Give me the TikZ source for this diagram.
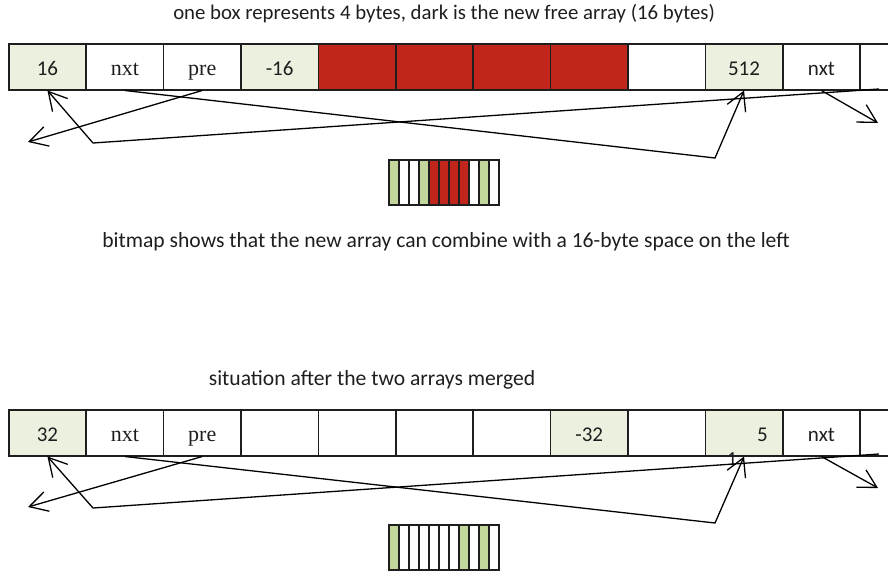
\documentclass[tikz,border=0pt]{standalone}
\usepackage{fontspec}
\setmainfont{Carlito}
\newfontfamily\ptrfont{Liberation Serif}
\usetikzlibrary{arrows.meta}

\definecolor{inkc}{HTML}{1E1E1E}
\definecolor{headc}{HTML}{EBF1DE}
\definecolor{usedc}{HTML}{C0261B}
\definecolor{bitg}{HTML}{C3D69B}

\tikzset{
  cell/.style={draw=inkc, line width=1.5pt, minimum width=77.4pt, minimum height=46pt,
    inner sep=0pt, anchor=north west, text=inkc, text height=18pt, text depth=0pt,
    font=\fontsize{21}{24}\selectfont},
  headcell/.style={cell, fill=headc},
  usedcell/.style={cell, fill=usedc},
  ptrcell/.style={cell, font=\ptrfont\fontsize{22}{24}\selectfont},
  link/.style={draw=black, line width=1.3pt},
  tip/.style={link, -{Straight Barb[length=18pt,width=20pt,line width=1.3pt]}},
  bitcell/.style={draw=inkc, line width=2.2pt, minimum width=10pt, minimum height=45pt,
    inner sep=0pt, anchor=north west},
  caption/.style={text=inkc, font=\fontsize{21.6}{24}\selectfont}
}

\begin{document}
\begin{tikzpicture}[x=1pt, y=-1pt]
\useasboundingbox (0,0) rectangle (888,574);

% ---- heap before merging ----
\node[caption, font=\fontsize{20.8}{24}\selectfont] (cap1) at (444,14) {one box represents 4 bytes, dark is the new free array (16 bytes)};

\foreach \i/\sty/\lab in {1/headcell/16, 2/ptrcell/nxt, 3/ptrcell/pre, 4/headcell/-16,
    5/usedcell/, 6/usedcell/, 7/usedcell/, 8/usedcell/, 9/cell/, 10/headcell/512,
    11/cell/nxt, 12/cell/}
  \node[\sty] (r\i) at ({8+77.4*(\i-1)},43) {\lab};

\coordinate (ra) at (715,158);
\coordinate (rb) at (93,143);
\coordinate (rl) at (28,142);
\coordinate (rr) at (878,123);
\coordinate (rs) at (879,89);

\draw[tip] (r2.south) -- (ra) -- (r10.south);
\draw[tip] (r3.south) -- (rl);
\draw[tip] (rs) -- (rb) -- (r1.south);
\draw[tip] (r11.south) -- (rr);

\foreach \i/\c in {1/bitg, 2/white, 3/white, 4/bitg, 5/usedc, 6/usedc, 7/usedc, 8/usedc,
    9/white, 10/bitg, 11/white}
  \node[bitcell, fill=\c] (ba\i) at ({388+10*(\i-1)},159) {};

\node[caption] (cap2) at (446,242) {bitmap shows that the new array can combine with a 16-byte space on the left};

% ---- heap after merging ----
\node[caption] (cap3) at (372,380) {situation after the two arrays merged};

\foreach \i/\sty/\lab in {1/headcell/32, 2/ptrcell/nxt, 3/ptrcell/pre, 4/cell/, 5/cell/,
    6/cell/, 7/cell/, 8/headcell/-32, 9/cell/, 10/headcell/, 11/cell/nxt, 12/cell/}
  \node[\sty] (s\i) at ({8+77.4*(\i-1)},409) {\lab};

\node[text=inkc, font=\fontsize{21}{24}\selectfont, anchor=base east, inner sep=0pt] (s10v) at (768,441) {5};
\node[text=inkc, font=\fontsize{20}{24}\selectfont, anchor=base, inner sep=0pt] (s10w) at (732,465) {1};

\coordinate (sa) at (715,523);
\coordinate (sb) at (93,508);
\coordinate (sl) at (28,507);
\coordinate (sr) at (878,488);
\coordinate (ss) at (879,454);

\draw[tip] (s2.south) -- (sa) -- (s10.south);
\draw[tip] (s3.south) -- (sl);
\draw[tip] (ss) -- (sb) -- (s1.south);
\draw[tip] (s11.south) -- (sr);

\foreach \i/\c in {1/bitg, 2/white, 3/white, 4/white, 5/white, 6/white, 7/white, 8/bitg,
    9/white, 10/bitg, 11/white}
  \node[bitcell, fill=\c] (bb\i) at ({388+10*(\i-1)},524) {};
\end{tikzpicture}
\end{document}
